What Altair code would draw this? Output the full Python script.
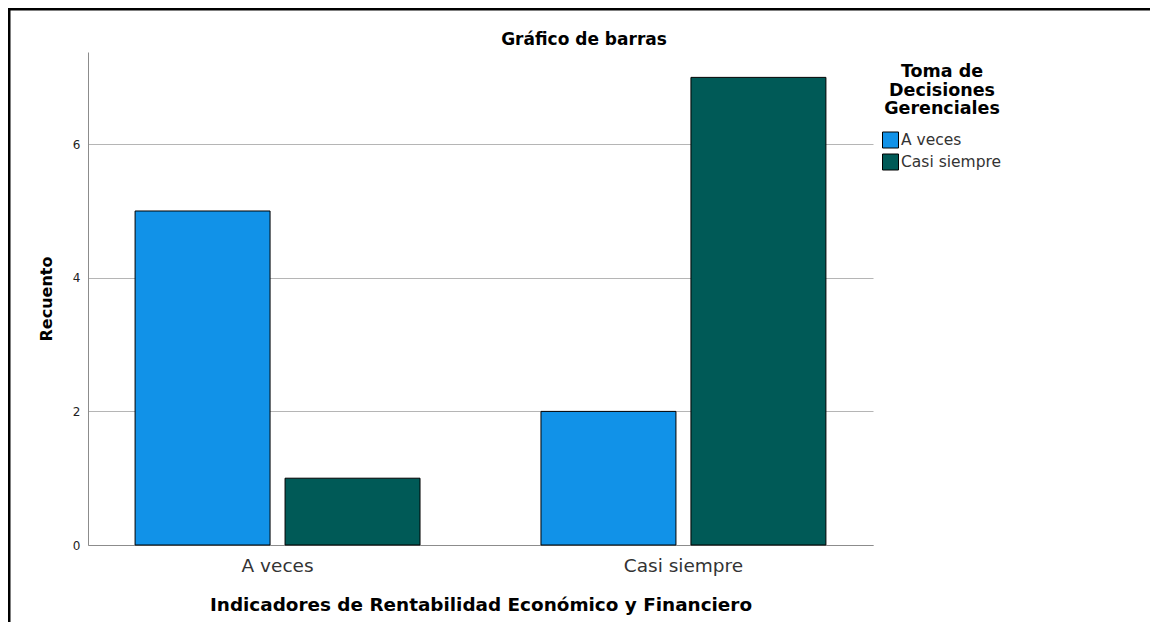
import altair as alt
import pandas as pd

categories = ["A veces", "Casi siempre"]
groups = ["A veces", "Casi siempre"]
counts_a_veces = [5, 2]
counts_casi_siempre = [1, 7]
colors = ["#1192e8", "#005a57"]
chart_title = "Gráfico de barras"

rows = []
for i, c in enumerate(categories):
    rows.append({"ind": c, "toma": groups[0], "n": counts_a_veces[i]})
    rows.append({"ind": c, "toma": groups[1], "n": counts_casi_siempre[i]})
df = pd.DataFrame(rows)

FONT = "DejaVu Sans"

bars = alt.Chart(df).mark_bar(stroke="black", strokeWidth=1).encode(
    x=alt.X(
        "ind:N",
        sort=categories,
        scale=alt.Scale(paddingInner=0.298, paddingOuter=0.116),
        axis=alt.Axis(
            title="Indicadores de Rentabilidad Económico y Financiero",
            labelAngle=0,
            labelFontSize=18.5,
            labelColor="#333333",
            labelFont=FONT,
            labelPadding=11,
            ticks=False,
            domainColor="#8c8c8c",
            titleFont=FONT,
            titleFontSize=18.4,
            titleFontWeight="bold",
            titleColor="#000000",
            titlePadding=21,
        ),
    ),
    xOffset=alt.XOffset(
        "toma:N", sort=groups, scale=alt.Scale(paddingInner=0.1, paddingOuter=0)
    ),
    y=alt.Y(
        "n:Q",
        scale=alt.Scale(domain=[0, 7.38], nice=False),
        axis=alt.Axis(
            title="Recuento",
            values=[0, 2, 4, 6],
            format="d",
            grid=True,
            gridColor="#b5b5b5",
            ticks=False,
            domainColor="#8c8c8c",
            labelFont=FONT,
            labelFontSize=12,
            labelColor="#222222",
            labelPadding=8,
            titleFont=FONT,
            titleFontSize=16,
            titleFontWeight="bold",
            titleColor="#000000",
            titlePadding=18,
        ),
    ),
    color=alt.Color(
        "toma:N",
        scale=alt.Scale(domain=groups, range=colors),
        legend=alt.Legend(
            title=["Toma de", "Decisiones", "Gerenciales"],
            titleFont=FONT,
            titleFontSize=17.5,
            titleFontWeight="bold",
            titleColor="#000000",
            titleAnchor="middle",
            titleAlign="center",
            titleLineHeight=18.5,
            titlePadding=14,
            labelFont=FONT,
            labelFontSize=15.5,
            labelColor="#333333",
            labelOffset=2,
            symbolType="square",
            symbolSize=256,
            symbolStrokeColor="black",
            symbolStrokeWidth=1,
            symbolOpacity=1,
            rowPadding=1,
            orient="none",
            legendX=794,
            legendY=11,
        ),
    ),
)

title_df = pd.DataFrame({"t": [chart_title]})
title_text = alt.Chart(title_df).mark_text(
    font=FONT, fontSize=17, fontWeight="bold", color="#000000",
    align="center", baseline="alphabetic",
).encode(text="t:N", x=alt.value(496), y=alt.value(-7))

frame_top = alt.Chart(title_df).mark_rule(color="black", strokeWidth=3).encode(
    x=alt.value(-80), x2=alt.value(1142), y=alt.value(-43)
)
frame_left = alt.Chart(title_df).mark_rule(color="black", strokeWidth=3).encode(
    x=alt.value(-79), y=alt.value(-44), y2=alt.value(570)
)

chart = alt.layer(bars, title_text, frame_top, frame_left).properties(
    width=785,
    height=493,
    autosize=alt.AutoSizeParams(type="none"),
    padding={"left": 80, "top": 44, "right": 277, "bottom": 77},
).configure_view(strokeWidth=0)

chart.save("out.html", embed_options={"renderer": "svg", "actions": False})
